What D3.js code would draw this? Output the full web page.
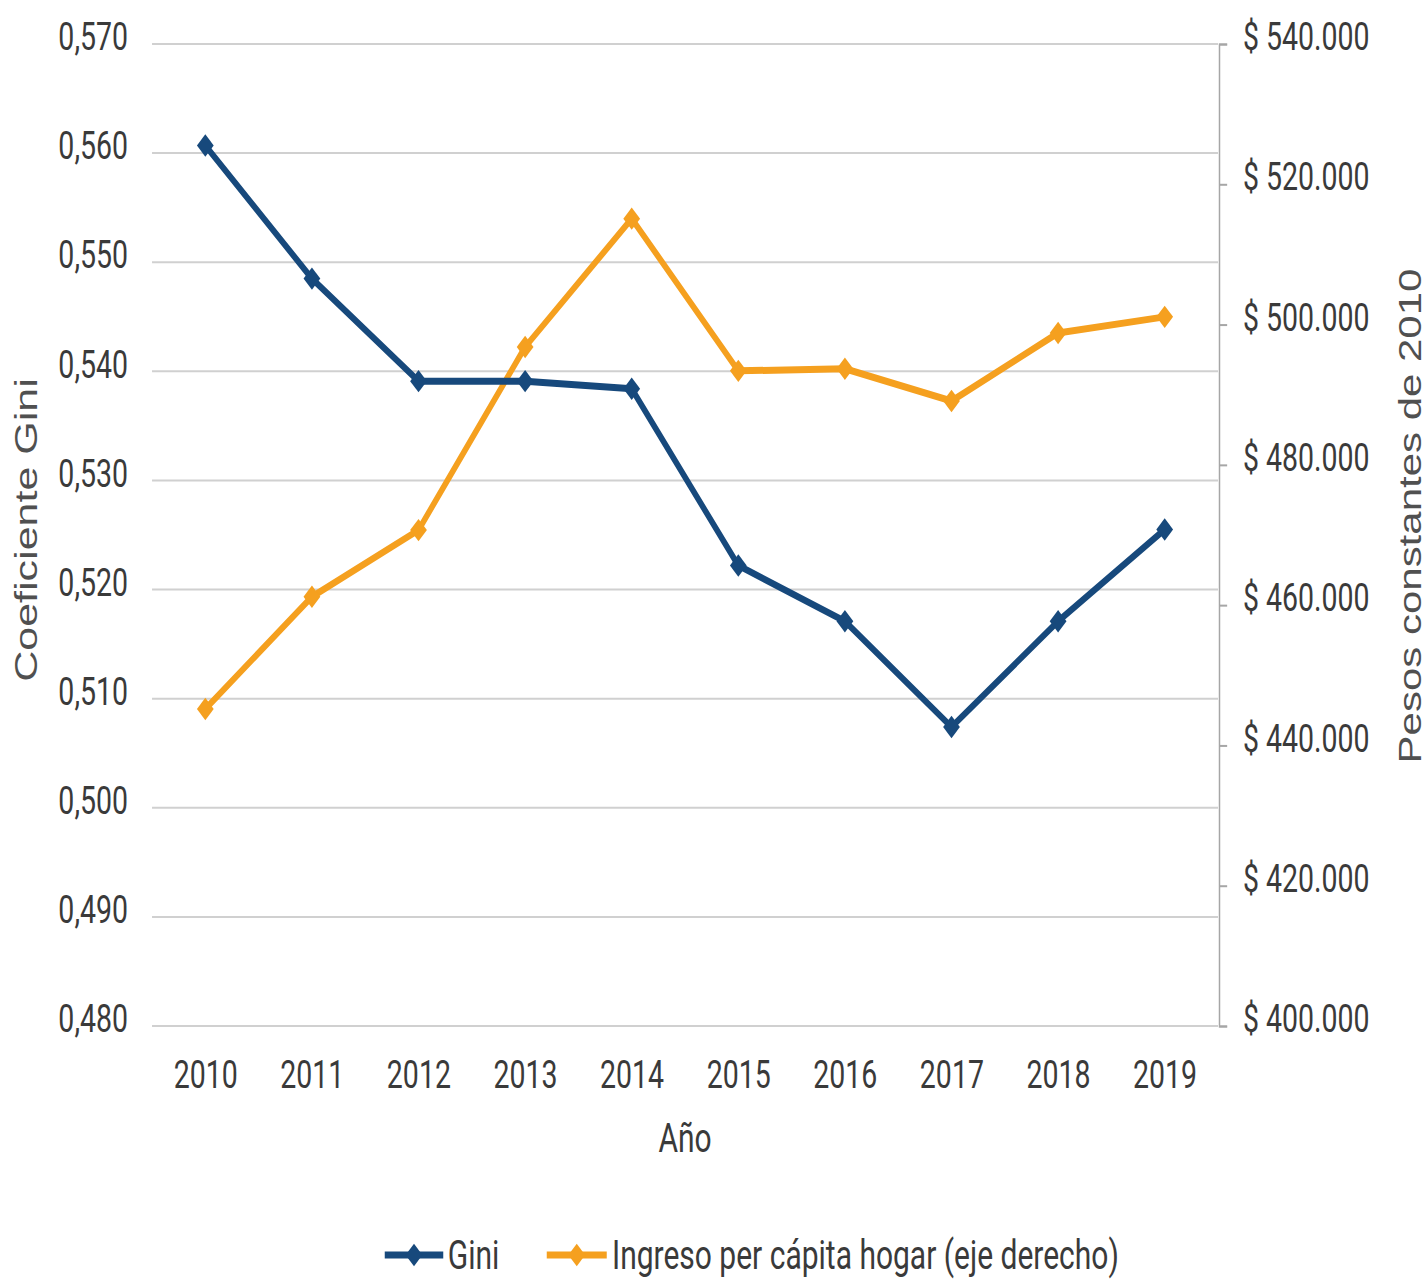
<!DOCTYPE html>
<html>
<head>
<meta charset="utf-8">
<script src="https://cdn.jsdelivr.net/npm/d3@7"></script>
<style>
  body { margin: 0; background: #fff; }
  svg text { font-family: Roboto, "Liberation Sans", sans-serif; }
</style>
</head>
<body>
<div id="chart"></div>
<script>
'use strict';

// Data
const years = ['2010', '2011', '2012', '2013', '2014', '2015', '2016', '2017', '2018', '2019'];
const gini = [0.5607, 0.5485, 0.5391, 0.5391, 0.5384, 0.5222, 0.5171, 0.5074, 0.5171, 0.5255];
const ingreso = [445200, 461200, 470700, 496800, 515100, 493400, 493700, 489100, 498800, 501100];
const giniTicks = [0.48, 0.49, 0.50, 0.51, 0.52, 0.53, 0.54, 0.55, 0.56, 0.57];
const ingresoTicks = [400000, 420000, 440000, 460000, 480000, 500000, 520000, 540000];

// The picture is squeezed horizontally, so draw in a wider space and scale x.
const sx = 0.75;
const fullW = 1427, fullH = 1279;
const plot = { left: 202.7, right: 1624, top: 44, bottom: 1026 };

const blue = '#17497c';
const orange = '#f5a01f';
const textCol = '#3a3a3a';

const svg = d3.select('#chart')
  .append('svg')
  .attr('width', fullW)
  .attr('height', fullH);

const g = svg.append('g').attr('transform', `scale(${sx},1)`);

const x = d3.scalePoint().domain(years).range([plot.left, plot.right]).padding(0.5);
const yL = d3.scaleLinear().domain([0.48, 0.57]).range([plot.bottom, plot.top]);
const yR = d3.scaleLinear().domain([400000, 540000]).range([plot.bottom, plot.top]);

const esLocale = d3.formatLocale({ decimal: ',', thousands: '.', grouping: [3], currency: ['$ ', ''] });
const fmtMoney = esLocale.format('$,.0f');

// Gridlines
g.append('g')
  .selectAll('line')
  .data(giniTicks)
  .join('line')
  .attr('x1', plot.left)
  .attr('x2', plot.right)
  .attr('y1', d => yL(d))
  .attr('y2', d => yL(d))
  .attr('stroke', '#d0d0d0')
  .attr('stroke-width', 2);

// Left axis
g.append('g')
  .attr('transform', `translate(${plot.left},0)`)
  .call(d3.axisLeft(yL).tickValues(giniTicks).tickSize(0).tickPadding(32)
    .tickFormat(d => d.toFixed(3).replace('.', ',')))
  .call(a => a.select('.domain').remove())
  .call(a => a.selectAll('text')
    .attr('dy', '0.15em')
    .style('font-size', '38px')
    .attr('fill', textCol));

// Right axis
g.append('g')
  .attr('transform', `translate(${plot.right + 1.5},0)`)
  .call(d3.axisRight(yR).tickValues(ingresoTicks).tickSize(10.7).tickPadding(21).tickFormat(fmtMoney))
  .call(a => a.select('.domain').attr('stroke', '#a6a6a6').attr('stroke-width', 2))
  .call(a => a.selectAll('.tick line').attr('stroke', '#a6a6a6').attr('stroke-width', 2))
  .call(a => a.selectAll('text')
    .attr('dy', '0.15em')
    .style('font-size', '38px')
    .attr('fill', textCol));

// Bottom axis
g.append('g')
  .attr('transform', `translate(0,${plot.bottom})`)
  .call(d3.axisBottom(x).tickSize(0).tickPadding(35))
  .call(a => a.select('.domain').remove())
  .call(a => a.selectAll('text')
    .style('font-size', '38px')
    .attr('fill', textCol));

// Axis titles
g.append('text')
  .attr('x', (plot.left + plot.right) / 2)
  .attr('y', 1152)
  .attr('text-anchor', 'middle')
  .style('font-size', '40px')
  .attr('fill', textCol)
  .text('Año');

g.append('text')
  .attr('transform', `translate(49,530) rotate(-90)`)
  .attr('text-anchor', 'middle')
  .style('font-family', '"Liberation Sans", Arial, sans-serif')
  .style('font-size', '43px')
  .attr('fill', '#505050')
  .text('Coeficiente Gini');

g.append('text')
  .attr('transform', `translate(${1421 / sx},516) rotate(-90)`)
  .attr('text-anchor', 'middle')
  .style('font-family', '"Liberation Sans", Arial, sans-serif')
  .style('font-size', '42px')
  .attr('fill', '#505050')
  .text('Pesos constantes de 2010');

// Series
const diamond = d3.symbol().type(d3.symbolSquare).size(250);

const series = [
  { name: 'Gini', values: gini, y: yL, color: blue },
  { name: 'Ingreso per cápita hogar (eje derecho)', values: ingreso, y: yR, color: orange }
];

series.slice().reverse().forEach(s => {
  const line = d3.line()
    .x((d, i) => x(years[i]))
    .y(d => s.y(d));

  g.append('path')
    .datum(s.values)
    .attr('fill', 'none')
    .attr('stroke', s.color)
    .attr('stroke-width', 7)
    .attr('stroke-linejoin', 'round')
    .attr('d', line);

  g.append('g')
    .selectAll('path')
    .data(s.values)
    .join('path')
    .attr('d', diamond)
    .attr('transform', (d, i) => `translate(${x(years[i])},${s.y(d)}) rotate(45)`)
    .attr('fill', s.color);
});

// Legend
const legendY = 1255;
const legendItems = [
  { s: series[0], x0: 513, x1: 591, tx: 597 },
  { s: series[1], x0: 729, x1: 809, tx: 816 }
];

const legend = g.append('g');
legendItems.forEach(it => {
  legend.append('line')
    .attr('x1', it.x0).attr('x2', it.x1)
    .attr('y1', legendY).attr('y2', legendY)
    .attr('stroke', it.s.color)
    .attr('stroke-width', 7);
  legend.append('path')
    .attr('d', diamond)
    .attr('transform', `translate(${(it.x0 + it.x1) / 2},${legendY}) rotate(45)`)
    .attr('fill', it.s.color);
  legend.append('text')
    .attr('x', it.tx)
    .attr('y', legendY)
    .attr('dy', '0.35em')
    .style('font-size', '40px')
    .attr('fill', textCol)
    .text(it.s.name);
});
</script>
</body>
</html>
